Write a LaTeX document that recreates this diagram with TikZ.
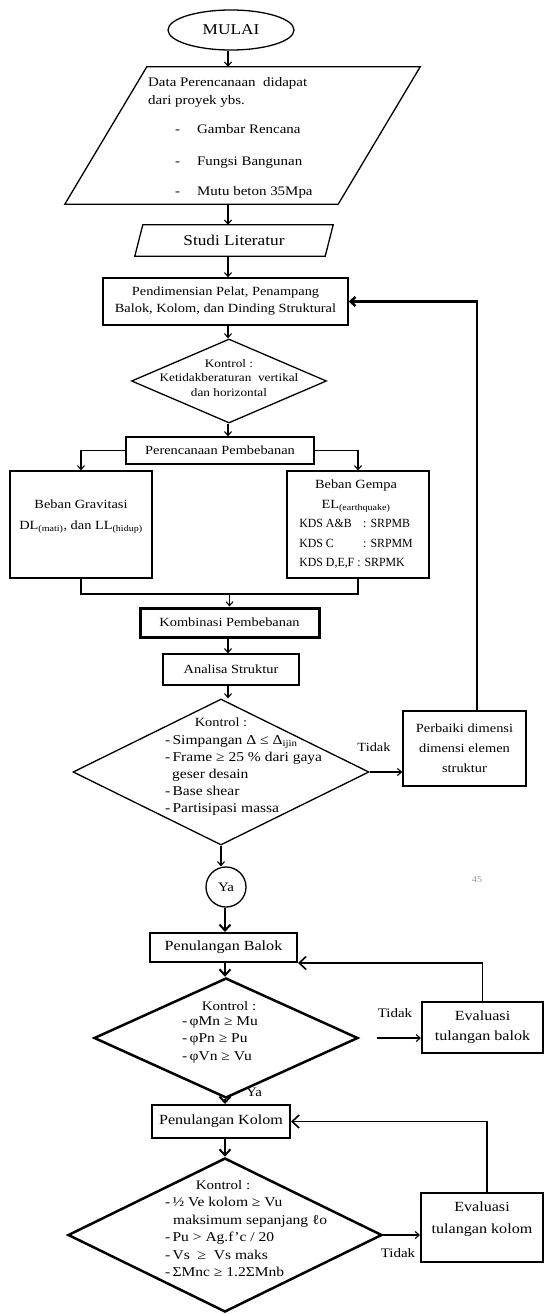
\documentclass[tikz,border=0pt]{standalone}
\usepackage{fontspec}
\setmainfont[FakeStretch=1.15]{Liberation Serif}
\newfontfamily\kdsfont[FakeStretch=0.95]{Liberation Serif}
\usetikzlibrary{shapes.geometric,arrows.meta,calc}
\tikzset{
  ln/.style={line width=1.3pt},
  box/.style={draw, rectangle, line width=1.3pt, inner sep=0pt, align=center},
  dia/.style={draw, diamond, inner sep=0pt, line width=1.3pt},
  txt/.style={inner sep=0pt, align=left},
  ctxt/.style={inner sep=0pt, align=center},
  arr/.style={line width=1.1pt, -{Straight Barb[length=4pt,width=7pt]}},
  barr/.style={line width=2pt, -{Straight Barb[length=6pt,width=11pt]}},
  fbk/.style={line width=1.6pt, -{Straight Barb[length=7pt,width=13pt]}},
  fa/.style={font=\fontsize{11.5}{14.5}\selectfont},
  fb/.style={font=\fontsize{12.5}{17}\selectfont},
  fl/.style={font=\fontsize{13.5}{17}\selectfont},
  fg/.style={font=\fontsize{12.5}{19.5}\selectfont},
  fc/.style={font=\fontsize{14}{16}\selectfont},
  fd/.style={font=\fontsize{13}{17.5}\selectfont},
  fe/.style={font=\fontsize{13.5}{17.5}\selectfont},
}
\begin{document}
\begin{tikzpicture}[x=1pt,y=-1pt]
\fill[white] (0,0) rectangle (544,1314);
\useasboundingbox (0,0) rectangle (544,1314);
\coordinate (ax) at (228,0);
\coordinate (bx) at (225,0);

% start
\node[draw, ellipse, line width=1.3pt, minimum width=126pt, minimum height=40pt, inner sep=0pt, font=\fontsize{15}{17}\selectfont] (mulai) at (231,30) {MULAI};

% data parallelogram
\node[inner sep=0pt, minimum width=273pt, minimum height=137pt] (data) at (242.5,135.5) {};
\draw[ln] ([xshift=41pt]data.north west) -- ([xshift=41pt]data.north east) -- ([xshift=-41pt]data.south east) -- ([xshift=-41pt]data.south west) -- cycle;
\node[txt, anchor=west, font=\fontsize{13}{18}\selectfont] (datat) at (148,92) {Data Perencanaan\ \ didapat\\dari proyek ybs.};
\node[txt, anchor=west, font=\fontsize{13}{17}\selectfont] (li1) at (175,129) {-\hspace{17pt}Gambar Rencana};
\node[txt, anchor=west, font=\fontsize{13}{17}\selectfont] (li2) at (175,163) {-\hspace{17pt}Fungsi Bangunan};
\node[txt, anchor=west, font=\fontsize{13}{17}\selectfont] (li3) at (175,192) {-\hspace{17pt}Mutu beton 35Mpa};

% studi literatur
\node[inner sep=0pt, minimum width=190pt, minimum height=31pt, font=\fontsize{15}{17}\selectfont] (studi) at (234,240.5) {Studi Literatur};
\draw[ln] ([xshift=4pt]studi.north west) -- ([xshift=4pt]studi.north east) -- ([xshift=-4pt]studi.south east) -- ([xshift=-4pt]studi.south west) -- cycle;

% pendimensian
\node[box, minimum width=245pt, minimum height=47pt, fb] (pend) at (225.5,301.5) {Pendimensian Pelat, Penampang\\Balok, Kolom, dan Dinding Struktural};

% diamond 1
\node[dia, minimum width=195pt, minimum height=84pt] (d1) at (229,381) {};
\node[ctxt, fa] (d1t) at (229,378) {Kontrol :\\Ketidakberaturan\ \ vertikal\\dan horizontal};

% perencanaan pembebanan
\node[box, minimum width=188pt, minimum height=27pt, fb] (peren) at (220,450.5) {Perencanaan Pembebanan};

% gravity / gempa
\node[box, minimum width=142pt, minimum height=107pt] (grav) at (81,524.5) {};
\node[ctxt, font=\fontsize{12.5}{21}\selectfont] (gravt) at (81,516.5) {Beban Gravitasi\\DL\textsubscript{(mati)}, dan LL\textsubscript{(hidup)}};
\node[box, minimum width=142pt, minimum height=107pt] (gempa) at (358,524.5) {};
\node[ctxt, fg] (gempat) at (356,524) {\begin{tabular}{@{}l@{}l@{}}
\multicolumn{2}{@{}c@{}}{Beban Gempa}\\
\multicolumn{2}{@{}c@{}}{EL\textsubscript{(earthquake)}}\\
\kdsfont KDS A\&B & \kdsfont\ \ \ : SRPMB\\
\kdsfont KDS C & \kdsfont\ \ \ : SRPMM\\
\kdsfont KDS D,E,F & \kdsfont\ : SRPMK
\end{tabular}};

% kombinasi, analisa
\node[box, line width=3pt, minimum width=179pt, minimum height=29pt, fb] (komb) at (229.5,622.5) {Kombinasi Pembebanan};
\node[box, minimum width=136pt, minimum height=31pt, fb] (anal) at (231,669.5) {Analisa Struktur};

% diamond 2
\node[dia, minimum width=296pt, minimum height=146pt] (d2) at (221,772) {};
\node[ctxt, fb] (d2k) at (221,722) {Kontrol :};
\node[txt, anchor=west, fl] (d2l) at (165,775) {-\,Simpangan Δ ≤ Δ\textsubscript{ijin}\\-\,Frame ≥ 25 \% dari gaya\\\hspace*{7pt}geser desain\\-\,Base shear\\-\,Partisipasi massa};

% perbaiki
\node[box, line width=1.5pt, minimum width=123pt, minimum height=75pt, font=\fontsize{12.5}{20}\selectfont] (perb) at (464.5,748.5) {Perbaiki dimensi\\dimensi elemen\\struktur};
\node[ctxt, font=\fontsize{12.5}{14}\selectfont] (t1) at (374,747) {Tidak};

% ya circle
\node[draw, circle, line width=1.3pt, minimum size=40pt, inner sep=0pt, fd] (ya) at (226,887) {Ya};
\node[text=black!40, font=\fontsize{9}{10}\selectfont] (pg) at (477,880) {45};

% balok
\node[box, line width=2pt, minimum width=147pt, minimum height=29pt, fc] (balok) at (223.5,947.5) {Penulangan Balok};
\node[dia, line width=2.5pt, minimum width=264pt, minimum height=120pt] (d3) at (226,1038) {};
\node[ctxt, fd] (d3k) at (229,1006) {Kontrol :};
\node[txt, anchor=west, fe] (d3l) at (182,1040) {-\,φMn ≥ Mu\\-\,φPn ≥ Pu\\-\,φVn ≥ Vu};
\node[box, line width=2pt, minimum width=121pt, minimum height=51pt, font=\fontsize{14}{20}\selectfont] (ev1) at (482.5,1027.5) {Evaluasi\\tulangan balok};
\coordinate (t2s) at (377,1038);
\node[ctxt, fd] (t2) at (395,1013) {Tidak};
\node[ctxt, fd] (ya2) at (254,1092) {Ya};

% kolom
\node[box, line width=2pt, minimum width=138pt, minimum height=33pt, fc] (kolom) at (221,1121.5) {Penulangan Kolom};
\node[dia, line width=2.5pt, minimum width=314pt, minimum height=154pt] (d4) at (225,1235) {};
\node[ctxt, fd] (d4k) at (223,1185) {Kontrol :};
\node[txt, anchor=west, fe] (d4l) at (165,1237) {-\,½ Ve kolom ≥ Vu\\\hspace*{8pt}maksimum sepanjang ℓo\\-\,Pu > Ag.f’c / 20\\-\,Vs\ \ ≥\ \ Vs maks\\-\,ΣMnc ≥ 1.2ΣMnb};
\node[box, line width=2pt, minimum width=122pt, minimum height=69pt] (ev2) at (482,1227.5) {};
\node[ctxt, font=\fontsize{14}{22}\selectfont] (ev2t) at (482,1219) {Evaluasi\\tulangan kolom};
\node[ctxt, fd] (t3) at (398,1253) {Tidak};

% connectors (upper)
\draw[arr] (ax |- mulai.south) -- (ax |- data.north);
\draw[arr] (ax |- data.south) -- (ax |- studi.north);
\draw[arr] (ax |- studi.south) -- (ax |- pend.north);
\draw[arr] (ax |- pend.south) -- (ax |- d1.north);
\draw[arr] (ax |- d1.south) -- (ax |- peren.north);
\draw[arr] (peren.west) -| (grav.north);
\draw[arr] (peren.east) -| (gempa.north);
\coordinate (mj) at (229.5,594);
\draw[ln] (grav.south) |- (mj) -| (gempa.south);
\draw[arr] (mj) -- (komb.north);
\draw[arr] (ax |- komb.south) -- (ax |- anal.north);
\draw[arr] (ax |- anal.south) -- (ax |- d2.north);
\draw[arr] (d2.east) -- (d2.east -| perb.west);
\draw[line width=2.5pt, -{Straight Barb[length=5pt,width=9pt]}] ([xshift=12.5pt]perb.north) |- (pend.east);

% connectors (lower)
\draw[arr] (d2.south) -- (d2.south |- ya.north);
\draw[barr] (bx |- ya.south) -- (bx |- balok.north);
\draw[barr] (bx |- balok.south) -- (bx |- d3.north);
\draw[arr] (t2s) -- (t2s -| ev1.west);
\draw[fbk] (ev1.north) |- (balok.south east);
\draw[barr] (bx |- d3.south) -- (bx |- kolom.north);
\draw[barr] (bx |- kolom.south) -- (bx |- d4.north);
\draw[arr] (d4.east) -- (d4.east -| ev2.west);
\draw[fbk] ([xshift=5pt]ev2.north) |- (kolom.east);
\end{tikzpicture}
\end{document}
